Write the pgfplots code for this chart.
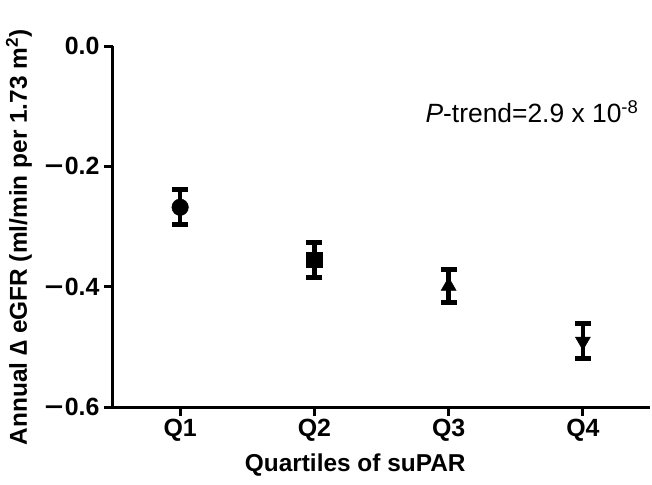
\documentclass[border=0pt]{standalone}
\usepackage{fontspec}
\setmainfont{Liberation Sans}
\usepackage{pgfplots}
\pgfplotsset{compat=1.18}
\newcommand\mn{\scalebox{1.3}[1]{−}\kern0.05em}
\begin{document}
\begin{tikzpicture}
\begin{axis}[
  scale only axis, width=537bp, height=361bp,
  at={(0,0)}, anchor=south west,
  xmin=0.5, xmax=4.5, ymin=-0.6, ymax=0,
  axis x line=bottom, axis y line=left,
  axis line style={line width=3bp, -},
  xtick={1,2,3,4}, xticklabels={Q1,Q2,Q3,Q4},
  ytick={-0.6,-0.4,-0.2,0}, yticklabels={\mn0.6,\mn0.4,\mn0.2,0.0},
  tick align=outside, major tick length=9bp,
  tick style={line width=3bp, black},
  ticklabel style={font=\fontsize{25}{29}\selectfont\bfseries},
  yticklabel style={xshift=-1bp},
  xlabel={Quartiles of suPAR},
  ylabel={Annual ∆ eGFR (ml/min per 1.73 m\textsuperscript{2})},
  label style={font=\fontsize{24.5}{28}\selectfont\bfseries},
  xlabel style={at={(axis description cs:0.451,-0.161)}, anchor=center},
  ylabel style={at={(axis description cs:-0.175,0.47)}, anchor=center},
  clip=false,
  error bars/y dir=both, error bars/y explicit,
  error bars/error bar style={line width=4.5bp, black},
  error bars/error mark options={line width=5bp, mark size=8bp, black, rotate=90},
]
\addplot[only marks, black, mark=*, mark size=8.3bp] coordinates {(1,-0.268) +- (0,0.029)};
\addplot[only marks, black, mark=square*, mark size=7.8bp] coordinates {(2,-0.355) +- (0,0.029)};
\addplot[only marks, black, mark=triangle*, mark size=8.7bp] coordinates {(3,-0.399) +- (0,0.028)};
\addplot[only marks, black, mark=triangle*, mark size=8.7bp, mark options={rotate=180}] coordinates {(4,-0.491) +- (0,0.029)};
\node[anchor=base east, font=\fontsize{26.5}{30}\selectfont] at (rel axis cs:0.985,0.789) {\textit{P}-trend=2.9 x 10\textsuperscript{-8}};
\end{axis}
\path (-113bp,-78bp) rectangle (539bp,407bp);
\end{tikzpicture}
\end{document}
